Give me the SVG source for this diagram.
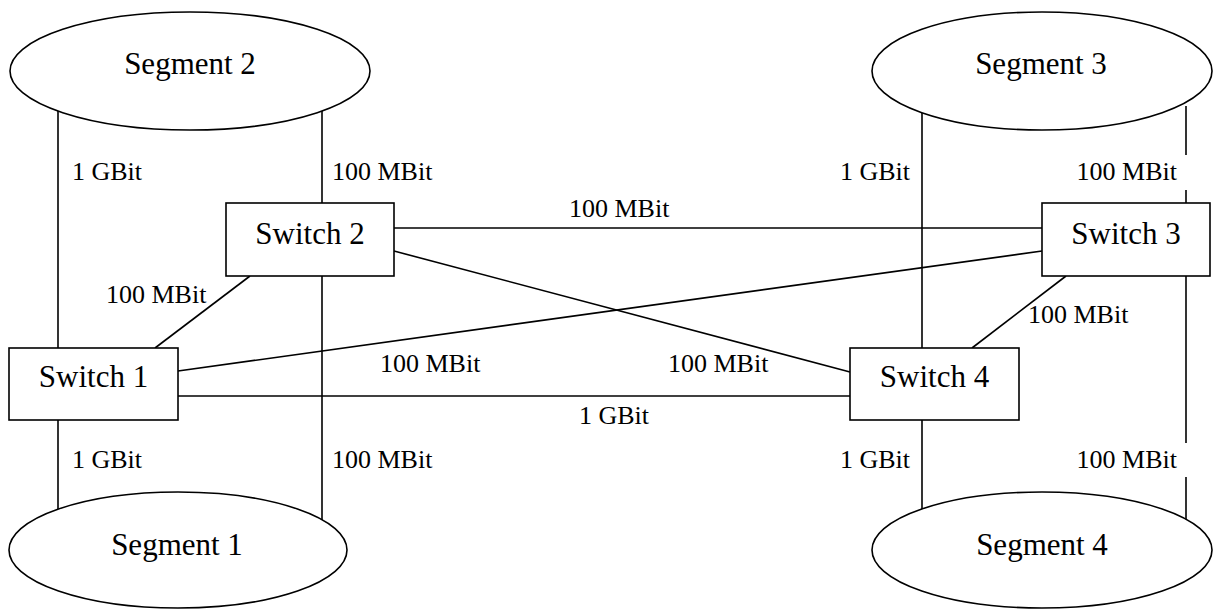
<svg xmlns="http://www.w3.org/2000/svg" width="1213" height="609" viewBox="0 0 1213 609">
<style>
.shape{fill:#fff;stroke:#000;stroke-width:1.6}
.ln{stroke:#000;stroke-width:1.6;fill:none}
.nt{font-family:"Liberation Serif","Times New Roman",serif;font-size:31px;fill:#000;text-anchor:middle}
.lb{font-family:"Liberation Serif","Times New Roman",serif;font-size:26px;fill:#000}
.e{text-anchor:end}
</style>
<rect width="1213" height="609" fill="#fff"/>
<g id="connectors">
<line class="ln" x1="58" y1="111" x2="58" y2="348"/>
<line class="ln" x1="58" y1="420" x2="58" y2="509"/>
<line class="ln" x1="322" y1="111" x2="322" y2="203"/>
<line class="ln" x1="322" y1="276" x2="322" y2="520"/>
<line class="ln" x1="922" y1="113" x2="922" y2="348"/>
<line class="ln" x1="922" y1="420" x2="922" y2="509"/>
<line class="ln" x1="1186" y1="106" x2="1186" y2="155"/>
<line class="ln" x1="1186" y1="190" x2="1186" y2="203"/>
<line class="ln" x1="1186" y1="276" x2="1186" y2="443"/>
<line class="ln" x1="1186" y1="477" x2="1186" y2="520"/>
<line class="ln" x1="155" y1="348" x2="250" y2="276"/>
<line class="ln" x1="394" y1="228" x2="1042" y2="228"/>
<line class="ln" x1="394" y1="251" x2="850" y2="372"/>
<line class="ln" x1="178" y1="371" x2="1042" y2="251"/>
<line class="ln" x1="178" y1="396" x2="850" y2="396"/>
<line class="ln" x1="1066" y1="276" x2="972" y2="348"/>
<text class="lb" x="72" y="180">1 GBit</text>
<text class="lb" x="332" y="180">100 MBit</text>
<text class="lb e" x="910" y="180">1 GBit</text>
<text class="lb e" x="1177" y="180">100 MBit</text>
<text class="lb" x="106" y="303">100 MBit</text>
<text class="lb" x="569" y="217">100 MBit</text>
<text class="lb" x="380" y="372">100 MBit</text>
<text class="lb" x="668" y="372">100 MBit</text>
<text class="lb" x="1028" y="323">100 MBit</text>
<text class="lb" x="579" y="424">1 GBit</text>
<text class="lb" x="72" y="468">1 GBit</text>
<text class="lb" x="332" y="468">100 MBit</text>
<text class="lb e" x="910" y="468">1 GBit</text>
<text class="lb e" x="1177" y="468">100 MBit</text>
</g>
<g id="segment2"><ellipse class="shape" cx="190" cy="71" rx="180" ry="59"/><text class="nt" x="190" y="74">Segment 2</text></g>
<g id="segment3"><ellipse class="shape" cx="1042" cy="71" rx="170" ry="59"/><text class="nt" x="1041" y="74">Segment 3</text></g>
<g id="segment1"><ellipse class="shape" cx="178" cy="550" rx="169" ry="58"/><text class="nt" x="177" y="555">Segment 1</text></g>
<g id="segment4"><ellipse class="shape" cx="1042" cy="550" rx="170" ry="58"/><text class="nt" x="1042" y="555">Segment 4</text></g>
<g id="switch1"><rect class="shape" x="9" y="348" width="169" height="72"/><text class="nt" x="93.5" y="387">Switch 1</text></g>
<g id="switch2"><rect class="shape" x="226" y="203" width="168" height="73"/><text class="nt" x="310" y="244">Switch 2</text></g>
<g id="switch3"><rect class="shape" x="1042" y="203" width="168" height="73"/><text class="nt" x="1126" y="244">Switch 3</text></g>
<g id="switch4"><rect class="shape" x="850" y="348" width="169" height="72"/><text class="nt" x="934.5" y="387">Switch 4</text></g>
</svg>
